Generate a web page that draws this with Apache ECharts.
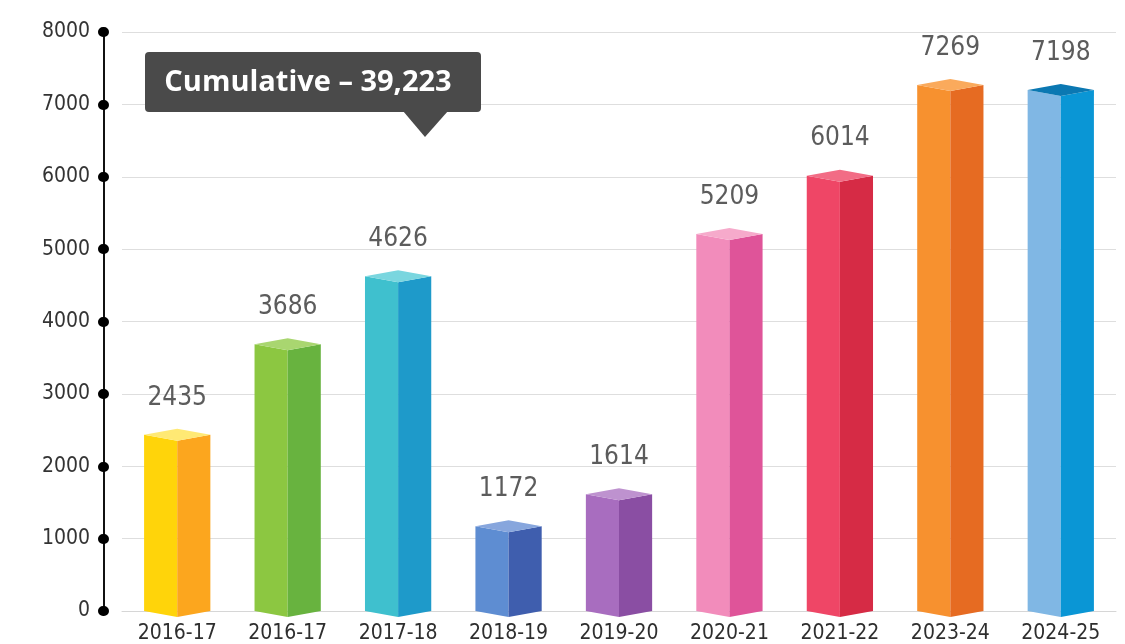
<!DOCTYPE html>
<html>
<head>
<meta charset="utf-8">
<script src="https://cdn.jsdelivr.net/npm/echarts@6/dist/echarts.min.js"></script>
<style>
  html, body { margin: 0; padding: 0; background: #fff; }
  #chart { width: 1125px; height: 644px; }
</style>
</head>
<body>
<div id="chart"></div>
<script>
// data
const years = ['2016-17', '2016-17', '2017-18', '2018-19', '2019-20', '2020-21', '2021-22', '2023-24', '2024-25'];
const values = [2435, 3686, 4626, 1172, 1614, 5209, 6014, 7269, 7198];
const yTicks = [0, 1000, 2000, 3000, 4000, 5000, 6000, 7000, 8000];
const cumulativeText = 'Cumulative – 39,223';

// face colours: [left, right, top]
const faceColors = [
  ['#FFD40A', '#FCA61E', '#FFE974'],
  ['#8CC741', '#68B33F', '#A9D670'],
  ['#3FC0CE', '#1E9ACA', '#7AD6DF'],
  ['#5E8DD2', '#3F5EAE', '#87A6DD'],
  ['#A86DBF', '#8A4EA3', '#BE92CF'],
  ['#F28CBB', '#DF5499', '#F6AACB'],
  ['#EF4666', '#D62B45', '#F26C85'],
  ['#F7912F', '#E66B22', '#FAAA5C'],
  ['#80B7E4', '#0A96D5', '#0B78B2']
];

const condensed = '"DejaVu Sans Condensed", "Liberation Sans Narrow", sans-serif';

const chart = echarts.init(document.getElementById('chart'));

// 3D-ish bar: two front faces + diamond top
const renderBar = (params, api) => {
  const i = params.dataIndex;
  const top = api.coord([i, api.value(1)]);
  const base = api.coord([i, 0]);
  const w = api.size([1, 0])[0] * 0.6;
  const h = 6;
  const x0 = top[0] - w / 2;
  const xm = top[0];
  const x1 = top[0] + w / 2;
  const t = top[1];
  const b = base[1];
  const c = faceColors[i];
  return {
    type: 'group',
    children: [
      {
        type: 'polygon',
        shape: { points: [[x0, t], [xm, t + h], [xm, b + h], [x0, b]] },
        style: { fill: c[0] }
      },
      {
        type: 'polygon',
        shape: { points: [[xm, t + h], [x1, t], [x1, b], [xm, b + h]] },
        style: { fill: c[1] }
      },
      {
        type: 'polygon',
        shape: { points: [[x0, t], [xm, t - h], [x1, t], [xm, t + h]] },
        style: { fill: c[2] }
      },
      {
        type: 'text',
        x: xm,
        y: t - 37,
        style: {
          text: String(api.value(1)),
          fill: '#5c5c5c',
          font: '26px ' + condensed,
          align: 'center',
          verticalAlign: 'middle'
        }
      }
    ]
  };
};

const option = {
  animation: false,
  grid: {
    left: 122,
    right: 9,
    top: 32,
    bottom: 32
  },
  xAxis: {
    type: 'category',
    data: years,
    axisLine: { lineStyle: { color: '#d6d6d6', width: 1 } },
    axisTick: { show: false },
    axisLabel: {
      color: '#2e2e2e',
      fontSize: 21,
      margin: 12,
      fontFamily: condensed
    }
  },
  yAxis: {
    type: 'value',
    min: 0,
    max: 8000,
    interval: 1000,
    offset: 18,
    axisLine: { show: true, lineStyle: { color: '#111', width: 2 } },
    axisTick: {
      show: true,
      length: 1,
      lineStyle: { color: '#000', width: 10, cap: 'round' }
    },
    axisLabel: {
      color: '#333',
      fontSize: 21,
      margin: 14,
      fontFamily: condensed,
      formatter: (v) => (yTicks.includes(v) ? String(v) : '')
    },
    splitLine: { lineStyle: { color: '#dedede', width: 1 } }
  },
  series: [
    {
      type: 'custom',
      renderItem: renderBar,
      data: values.map((v, i) => [i, v]),
      encode: { x: 0, y: 1 },
      clip: false
    }
  ],
  graphic: [
    {
      type: 'group',
      left: 145,
      top: 52,
      z: 100,
      children: [
        {
          type: 'rect',
          z: 100,
          shape: { x: 0, y: 0, width: 336, height: 60, r: 4 },
          style: { fill: '#4a4a4a' }
        },
        {
          type: 'polygon',
          z: 100,
          shape: { points: [[258, 59], [303, 59], [280, 85]] },
          style: { fill: '#4a4a4a' }
        },
        {
          type: 'text',
          z: 101,
          x: 163,
          y: 31,
          style: {
            text: cumulativeText,
            fill: '#fff',
            font: 'bold 29px "Open Sans", "DejaVu Sans", sans-serif',
            align: 'center',
            verticalAlign: 'middle'
          }
        }
      ]
    }
  ]
};

chart.setOption(option);
window.addEventListener('resize', () => chart.resize());
</script>
</body>
</html>
